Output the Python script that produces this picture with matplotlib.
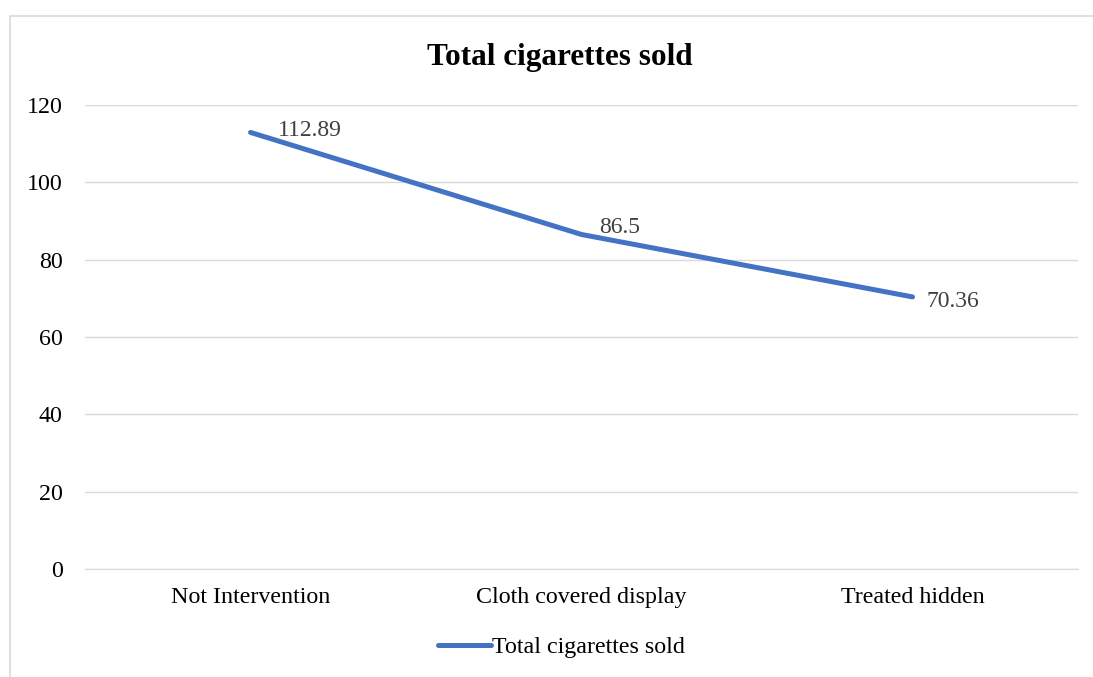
import matplotlib
matplotlib.use('Agg')
import matplotlib.pyplot as plt
from matplotlib.patches import Rectangle

# 数据
categories = ['Not Intervention', 'Cloth covered display', 'Treated hidden']
cigarettes_sold = [112.89, 86.5, 70.36]
value_labels = ['112.89', '86.5', '70.36']
y_ticks = [0, 20, 40, 60, 80, 100, 120]

plt.rcParams['font.family'] = ['Liberation Serif', 'DejaVu Serif']

fig = plt.figure(figsize=(10.93, 6.77), dpi=100)
ax = fig.add_axes([0.0778, 0.1595, 0.9085, 0.6855])

# 外框
fig.patches.append(Rectangle((10 / 1093, -0.05), 1.1, 1 - 16 / 677 + 0.05,
                             transform=fig.transFigure, fill=False,
                             edgecolor='#d9d9d9', linewidth=1.2))

x = list(range(len(categories)))
line, = ax.plot(x, cigarettes_sold, color='#4472C4', linewidth=3.6,
                solid_capstyle='round', solid_joinstyle='round',
                label='Total cigarettes sold', zorder=3)

# 数据标签偏移（点）
label_offsets = [(19.5, 1.5), (13, 5), (10, -3.5)]
for xi, yi, lab, off in zip(x, cigarettes_sold, value_labels, label_offsets):
    ax.annotate(lab, (xi, yi), xytext=off, textcoords='offset points',
                ha='left', va='center', fontsize=17, color='#404040')

ax.set_xlim(-0.5, 2.5)
ax.set_ylim(0, 120)
ax.set_yticks(y_ticks)
ax.set_xticks(x)
ax.set_xticklabels(categories)
ax.grid(axis='y', color='#d9d9d9', linewidth=1)
ax.set_axisbelow(True)
for s in ['top', 'right', 'left']:
    ax.spines[s].set_visible(False)
ax.spines['bottom'].set_color('#d9d9d9')
ax.tick_params(length=0, labelsize=17.3, colors='#000000')
ax.tick_params(axis='y', pad=16)
ax.tick_params(axis='x', pad=13)

fig.text(0.512, 1 - 57 / 677, 'Total cigarettes sold', ha='center', va='center',
         fontsize=22.5, fontweight='bold')

fig.legend(handles=[line], loc='center', bbox_to_anchor=(0.514, 1 - 647 / 677),
           frameon=False, fontsize=17.3, handlelength=2.2, handletextpad=0.05)

fig.savefig('out.png', dpi=100)
